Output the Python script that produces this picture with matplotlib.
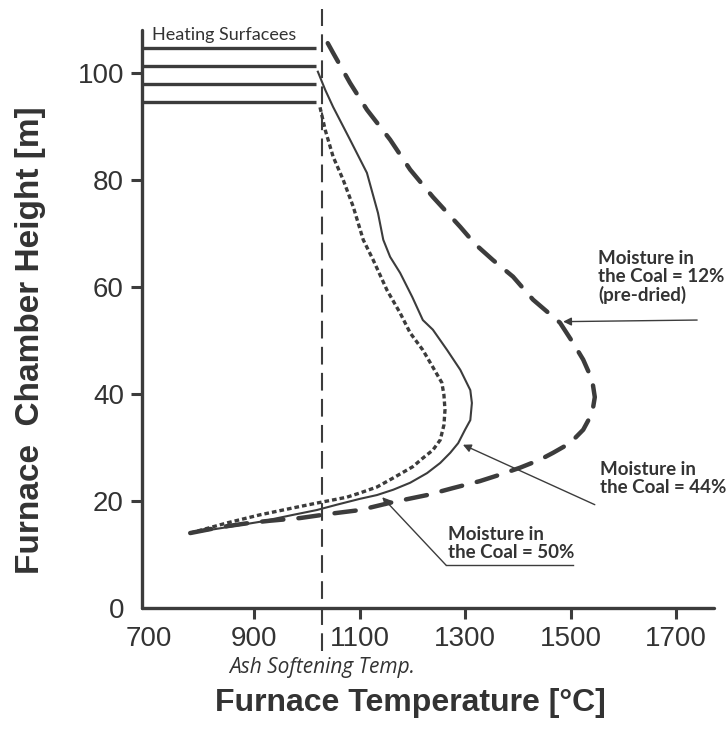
import matplotlib
matplotlib.use("Agg")
import matplotlib.pyplot as plt

# ---------------- data ----------------
x_ticks = [700, 900, 1100, 1300, 1500, 1700]
y_ticks = [0, 20, 40, 60, 80, 100]

ash_softening_temp = 1029

heating_surface_heights = [104.7, 101.3, 97.9, 94.6]

# Moisture 12 % (pre-dried) - long dashes
temp_12 = [779, 836, 892, 930, 987, 1044, 1101, 1164, 1228, 1277, 1328, 1366, 1404,
           1442, 1467, 1499, 1524, 1541, 1546, 1541, 1524, 1505, 1480, 1429, 1391,
           1353, 1319, 1291, 1239, 1196, 1158, 1114, 1082, 1050, 1031]
height_12 = [14.0, 15.1, 15.9, 16.3, 16.8, 17.6, 18.3, 19.8, 21.1, 22.4, 23.7, 24.9,
             26.2, 27.7, 29.0, 30.8, 33.3, 36.4, 39.4, 42.6, 46.4, 49.5, 53.3, 57.6,
             61.9, 65.0, 68.0, 71.2, 76.8, 81.9, 87.5, 93.1, 98.1, 103.7, 107.1]

# Moisture 44 % - solid
temp_44 = [779, 849, 911, 974, 1019, 1057, 1101, 1133, 1164, 1196, 1228, 1253, 1272,
           1287, 1300, 1310, 1313, 1310, 1291, 1266, 1239, 1220, 1200, 1177, 1158,
           1145, 1135, 1114, 1082, 1050, 1035, 1021]
height_44 = [14.0, 15.1, 16.1, 17.4, 18.3, 19.3, 20.4, 21.1, 22.1, 23.4, 25.2, 27.1,
             29.0, 30.8, 33.3, 35.1, 38.3, 40.7, 44.5, 48.2, 52.0, 53.8, 58.1, 62.6,
             65.6, 68.8, 73.8, 81.3, 87.5, 93.6, 96.8, 100.2]

# Moisture 50 % - dotted
temp_50 = [779, 849, 911, 974, 1019, 1076, 1101, 1133, 1164, 1201, 1220, 1239, 1253,
           1260, 1262, 1260, 1256, 1239, 1220, 1196, 1177, 1152, 1126, 1107, 1088,
           1069, 1050, 1035, 1025]
height_50 = [14.0, 15.9, 17.4, 18.7, 19.6, 20.7, 21.5, 22.6, 24.3, 26.4, 28.0, 29.5,
             31.4, 34.2, 37.0, 39.8, 42.1, 45.0, 48.2, 51.4, 55.1, 59.4, 65.0, 68.8,
             75.0, 80.0, 84.3, 89.3, 93.6]

# ---------------- figure ----------------
C = "#3c3c3c"
TXT = "#333333"
fig = plt.figure(figsize=(7.28, 7.29), dpi=100)
ax = fig.add_axes([0.1951, 0.166, 0.7857, 0.7929])
ax.set_xlim(687.7, 1772)
ax.set_ylim(0, 108)

for s in ["top", "right"]:
    ax.spines[s].set_visible(False)
for s in ["left", "bottom"]:
    ax.spines[s].set_linewidth(2.4)
    ax.spines[s].set_color(C)
    ax.spines[s].set_capstyle("round")

ax.set_xticks(x_ticks)
ax.set_yticks(y_ticks)
ax.tick_params(axis="both", direction="out", length=8, width=2.2, color=C,
               labelsize=20, labelcolor=TXT, pad=5)
ax.xaxis.get_major_ticks()[0].tick1line.set_visible(False)
ax.yaxis.get_major_ticks()[0].tick1line.set_visible(False)
for lab in ax.get_xticklabels() + ax.get_yticklabels():
    lab.set_fontfamily("Liberation Sans")

ax.set_xlabel("Furnace Temperature [°C]", fontsize=23, fontweight="bold",
              family="Liberation Sans", color=TXT)
ax.xaxis.set_label_coords(0.47, -0.138)
ax.set_ylabel("Furnace  Chamber Height [m]", fontsize=24, fontweight="bold",
              family="Liberation Sans", color=TXT)
ax.yaxis.set_label_coords(-0.168, 0.4637)

# ash softening temperature line
ax.plot([ash_softening_temp, ash_softening_temp], [-8, 112], color=C, lw=1.5,
        linestyle=(0, (8.5, 4.0)), clip_on=False, zorder=2)
ax.text(ash_softening_temp, -11.2, "Ash Softening Temp.", fontsize=15, style="italic",
        family="Open Sans", color=TXT, ha="center", va="center")

# heating surfaces
for h in heating_surface_heights:
    ax.plot([690, 1017], [h, h], color=C, lw=2.4, solid_capstyle="butt", zorder=3)
ax.text(707, 107.0, "Heating Surfacees", fontsize=13, family="Lato",
        color=TXT, ha="left", va="center")

# curves
ax.plot(temp_12, height_12, color=C, lw=3.2, linestyle=(0, (4.8, 3.4)),
        dash_capstyle="round", zorder=4)
ax.plot(temp_44, height_44, color=C, lw=1.5, zorder=4)
ax.plot(temp_50, height_50, color=C, lw=2.4, linestyle=(0, (1.4, 0.9)), zorder=4)

# annotations
ann_font = dict(fontsize=13.5, fontweight="bold", family="Lato", color=TXT,
                ha="left", va="top", linespacing=1.05)
arrow = dict(arrowstyle="-|>", color=C, lw=1.0, mutation_scale=12,
             shrinkA=0, shrinkB=0)

ax.text(1552, 66.8, "Moisture in\nthe Coal = 12%\n(pre-dried)", **ann_font)
ax.annotate("", xy=(1486, 53.5), xytext=(1740, 53.8), arrowprops=arrow)

ax.text(1556, 27.4, "Moisture in\nthe Coal = 44%", **ann_font)
ax.annotate("", xy=(1296, 30.5), xytext=(1546, 19.3), arrowprops=arrow)

ax.text(1268, 15.3, "Moisture in\nthe Coal = 50%", **ann_font)
ax.annotate("", xy=(1143, 20.7), xytext=(1264, 8.0), arrowprops=arrow)
ax.plot([1264, 1504], [8.0, 8.0], color=C, lw=1.0, zorder=3)

fig.savefig("out.png", dpi=100)
